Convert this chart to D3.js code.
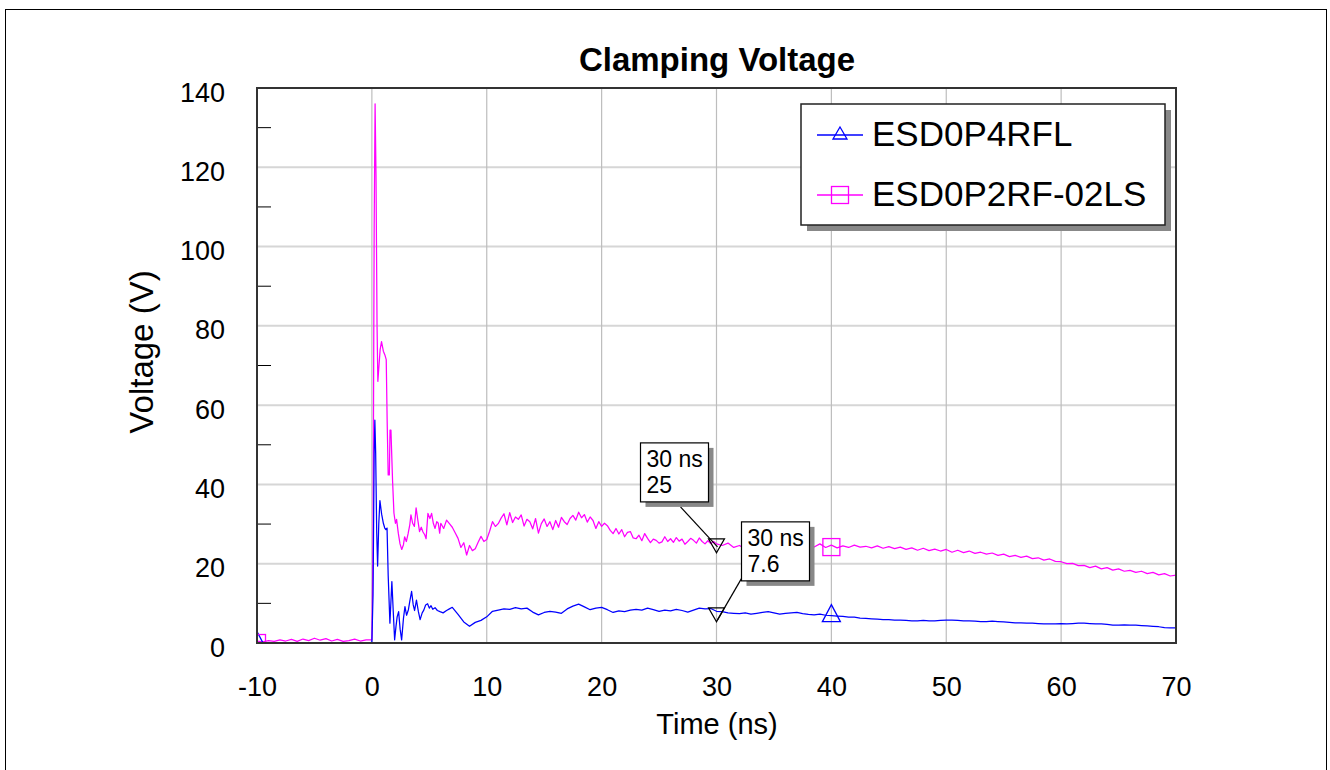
<!DOCTYPE html>
<html><head><meta charset="utf-8">
<script src="https://cdn.jsdelivr.net/npm/d3@7"></script>
<style>body{margin:0;background:#fff}svg{display:block}text{font-family:"Liberation Sans",Arial,sans-serif;fill:#000}</style>
</head><body><svg id="c" width="1330" height="770"></svg>
<script>
// ---------------- DATA ----------------
const chartTitle = "Clamping Voltage";
const xLabel = "Time (ns)";
const yLabel = "Voltage (V)";
const seriesNames = ["ESD0P4RFL", "ESD0P2RF-02LS"];
const xTicks = [-10, 0, 10, 20, 30, 40, 50, 60, 70];
const yTicks = [0, 20, 40, 60, 80, 100, 120, 140];
const yMinorTicks = [10, 30, 50, 70, 90, 110, 130];
const markerTimes = [-10, 40];

// ESD0P4RFL (blue)
const bluePre = [[-10, 0.1], [-5, 0.1], [-0.1, 0.1]];
const blueSpike = [[0,0.2],[0.1,12],[0.2,48],[0.26,56.2],[0.33,48],[0.42,28],[0.5,19.4],[0.6,30],[0.7,35.9],[0.85,32.5],[1.0,30.2],[1.12,29.0],[1.22,28.6],[1.32,29.0],[1.42,17],[1.57,5.0],[1.74,15.5],[1.86,8],[1.98,0.8],[2.1,4.2],[2.2,6.6],[2.33,7.9],[2.46,3.5],[2.59,0.8],[2.75,6.2],[2.88,9.2],[3.02,7.0],[3.18,8.4],[3.3,10.5],[3.46,13.0],[3.6,9.6],[3.72,8.2],[3.88,10.8],[4.05,7.9],[4.2,5.9],[4.38,7.6],[4.52,8.3],[4.68,9.6],[4.85,9.9],[5.0,8.8],[5.15,9.4],[5.3,8.5],[5.5,8.9],[5.7,8.2],[5.93,7.9],[6.2,7.6],[6.5,8.2],[6.75,8.6],[7.0,9.0]];
const blueTailStart = 7.5, blueTailStep = 0.5;
const blueTail = [
  7.2,5.3,4.2,5.2,5.7,6.6,8.0,8.3,8.6,8.5,
  8.9,8.6,8.8,7.8,7.1,7.7,8.0,7.8,7.5,8.6,
  9.3,9.8,9.1,8.4,8.8,9.0,8.4,7.7,8.1,7.9,
  8.3,8.5,8.3,8.8,8.4,8.0,8.3,8.1,8.5,8.2,
  7.8,8.3,8.8,8.6,8.7,8.0,7.9,7.6,7.5,7.4,
  7.6,7.3,7.5,7.7,7.9,7.6,7.3,7.5,7.6,7.7,
  7.4,7.2,7.1,7.3,7.0,6.9,6.8,6.7,6.5,6.5,
  6.3,6.2,6.1,6.0,5.9,5.9,5.8,5.8,5.7,5.6,
  5.6,5.7,5.6,5.6,5.7,5.8,5.8,5.7,5.6,5.6,
  5.5,5.4,5.4,5.5,5.4,5.3,5.2,5.1,5.1,5.0,
  5.0,4.9,4.8,4.8,4.8,4.9,4.8,4.9,5.0,5.0,
  4.9,4.8,4.8,4.7,4.5,4.5,4.6,4.5,4.5,4.4,
  4.3,4.2,4.1,3.9,3.8,3.8];

// ESD0P2RF-02LS (magenta)
const magPreStart = -10, magPreStep = 0.5;
const magPre = [0.5,0.3,0.6,0.4,0.8,0.5,0.9,0.4,1.0,0.6,1.2,0.7,1.1,0.5,0.9,0.4,0.6,1.0,0.5,0.8];
const magSpike = [[0,0.8],[0.1,25],[0.2,105],[0.28,136],[0.36,118],[0.45,80],[0.52,66],[0.62,70],[0.72,74],[0.84,76],[1.0,73.6],[1.15,72.5],[1.25,71.5],[1.33,56],[1.42,42.4],[1.52,42.4],[1.58,53.7],[1.66,53.7],[1.8,41],[1.92,32.8],[2.05,30.2],[2.15,31.2],[2.3,27.7],[2.45,25.0],[2.6,23.6],[2.75,24.8],[2.85,26.8],[3.0,25.6],[3.15,27.5],[3.3,29.8],[3.4,32.3],[3.55,30.2],[3.7,29.4],[3.85,34.1],[4.0,31.0],[4.15,28.1],[4.3,29.2],[4.45,28.0],[4.6,27.3],[4.72,26.3],[4.88,32.7],[5.05,31.4],[5.2,32.7],[5.35,30.2],[5.5,28.9],[5.65,30.6],[5.78,30.2],[5.9,27.7]];
const magMidStart = 6, magMidStep = 0.25;
const magMid = [
  30.2,28.9,31.0,30.1,29.2,27.8,26.4,24.1,25.3,22.2,
  24.6,23.3,23.8,25.4,26.9,25.6,26.1,28.2,30.6,29.4,
  30.1,31.5,32.6,29.8,32.9,30.4,31.8,31.2,32.3,29.5,
  31.2,30.6,28.8,31.4,27.7,30.1,31.3,29.4,30.6,28.6,
  30.9,29.2,31.7,30.6,29.9,31.4,32.2,31.0,33.0,31.6,
  32.4,30.5,31.8,30.9,28.9,30.6,29.4,30.2,29.6,28.4,
  27.6,28.9,27.5,28.6,26.8,27.9,28.1,26.5,26.3,27.2,
  25.8,27.6,26.4,25.3,26.2,25.9,25.2,25.5,26.8,25.6,
  26.3,25.4,26.6,25.7,26.2,24.9,25.6,26.4,25.9,25.2,
  26.5,25.6,25.0,25.8,25.1,25.6,25.0];
const magTailStart = 30.5, magTailStep = 0.5;
const magTail = [
  24.6,25.2,24.1,24.6,23.7,24.3,23.8,24.7,24.0,24.6,
  23.9,24.5,24.0,24.8,24.1,24.6,24.2,25.0,24.1,24.7,
  24.0,24.5,24.1,24.7,24.2,24.4,24.0,24.5,23.9,24.3,
  23.8,24.2,23.6,24.0,23.4,23.9,23.3,23.7,23.2,23.6,
  22.9,23.4,22.8,23.2,22.6,22.9,22.4,22.7,22.1,22.4,
  21.8,22.1,21.6,21.9,21.3,21.5,20.9,21.2,20.6,20.5,
  20.0,20.1,19.5,19.6,19.0,19.4,18.7,19.0,18.4,18.7,
  18.1,18.3,17.8,18.1,17.5,17.8,17.2,17.5,16.9,17.1];

// cursor annotations
const annotTimes = [30, 30];
const annotValues = [25, 7.6];
const annotLabels = [["30 ns", "25"], ["30 ns", "7.6"]];

// ---------------- BUILD ----------------
const toPairs = (start, step, vals) => vals.map((v, i) => [start + i * step, v]);
const blueData = [...bluePre, ...blueSpike, ...toPairs(blueTailStart, blueTailStep, blueTail)];
const magData = [...toPairs(magPreStart, magPreStep, magPre), ...magSpike,
  ...toPairs(magMidStart, magMidStep, magMid), ...toPairs(magTailStart, magTailStep, magTail)];
const series = [
  {name: seriesNames[0], data: blueData, color: "#0000ff", marker: "tri"},
  {name: seriesNames[1], data: magData, color: "#ff00ff", marker: "sq"}
];

const svg = d3.select("#c");
const L = 257, R = 1176, T = 88, B = 643;
const x = d3.scaleLinear().domain([-10, 70]).range([L, R]);
const y = d3.scaleLinear().domain([0, 140]).range([B, T]);

svg.append("rect").attr("width", 1330).attr("height", 770).attr("fill", "#fff");
// outer frame
svg.append("rect").attr("x", 5.5).attr("y", 9.5).attr("width", 1321).attr("height", 800)
  .attr("fill", "none").attr("stroke", "#000").attr("stroke-width", 1);

// title
svg.append("text").attr("x", 717).attr("y", 71).attr("text-anchor", "middle")
  .attr("font-size", 33).attr("font-weight", "bold").text(chartTitle);

// grid
const grid = svg.append("g");
grid.selectAll(".hg").data(yTicks.filter(v => v > 0 && v < 140)).join("line")
  .attr("x1", L).attr("x2", R).attr("y1", d => y(d)).attr("y2", d => y(d))
  .attr("stroke", "#d6d6d6").attr("stroke-width", 2);
grid.selectAll(".vg").data(xTicks.filter(v => v > -10 && v < 70)).join("line")
  .attr("x1", d => x(d)).attr("x2", d => x(d)).attr("y1", T).attr("y2", B)
  .attr("stroke", "#bdbdbd").attr("stroke-width", 1.2);
// minor ticks on y axis
grid.selectAll(".mt").data(yMinorTicks).join("line")
  .attr("x1", L).attr("x2", L + 14).attr("y1", d => y(d)).attr("y2", d => y(d))
  .attr("stroke", "#000").attr("stroke-width", 1);

// clip
svg.append("clipPath").attr("id", "clip").append("rect")
  .attr("x", L).attr("y", T).attr("width", R - L).attr("height", B - T);
const plot = svg.append("g").attr("clip-path", "url(#clip)");

const line = d3.line().x(d => x(d[0])).y(d => y(d[1]));
const triPath = s => `M0,${-11*s}L${9*s},${6*s}L${-9*s},${6*s}Z`;
[series[1], series[0]].forEach(s => {
  plot.append("path").datum(s.data).attr("d", line).attr("fill", "none")
    .attr("stroke", s.color).attr("stroke-width", 1.25).attr("stroke-linejoin", "round");
});
series.forEach(s => {
  markerTimes.forEach(t => {
    const p = s.data.reduce((a, b) => Math.abs(b[0] - t) < Math.abs(a[0] - t) ? b : a);
    const g = plot.append("g").attr("transform", `translate(${x(p[0])},${y(p[1])})`);
    if (s.marker === "tri") g.append("path").attr("d", triPath(1)).attr("fill", "none").attr("stroke", s.color).attr("stroke-width", 1.3);
    else g.append("rect").attr("x", -8.5).attr("y", -6.5).attr("width", 17).attr("height", 17).attr("fill", "none").attr("stroke", s.color).attr("stroke-width", 1.3);
  });
});

// plot border
svg.append("rect").attr("x", L).attr("y", T).attr("width", R - L).attr("height", B - T)
  .attr("fill", "none").attr("stroke", "#333").attr("stroke-width", 2);

// axes labels via d3 axis
const fmt = d => String(d);
const xAxis = svg.append("g").attr("transform", `translate(0,${B})`)
  .call(d3.axisBottom(x).tickValues(xTicks).tickSize(0).tickPadding(53).tickFormat(fmt));
xAxis.select(".domain").remove();
xAxis.selectAll("text").attr("font-size", 27).attr("font-family", "Liberation Sans, Arial, sans-serif").attr("fill", "#000").attr("dy", 0);
const yAxis = svg.append("g").attr("transform", `translate(${L},0)`)
  .call(d3.axisLeft(y).tickValues(yTicks).tickSize(0).tickPadding(32).tickFormat(fmt));
yAxis.select(".domain").remove();
yAxis.selectAll("text").attr("font-size", 27).attr("font-family", "Liberation Sans, Arial, sans-serif").attr("fill", "#000").attr("dy", 13);

svg.append("text").attr("x", 717).attr("y", 734).attr("text-anchor", "middle").attr("font-size", 29).text(xLabel);
svg.append("text").attr("transform", "translate(153,352) rotate(-90)").attr("text-anchor", "middle").attr("font-size", 33).text(yLabel);

// annotations
const boxOff = [[-76, -101], [25, -91]];
const lineStart = [[-36, -37], [55, -86]];
const lineEndDy = [3, 7];
annotTimes.forEach((t, i) => {
  const ax = x(t), ay = y(annotValues[i]);
  const bx = ax + boxOff[i][0], by = ay + boxOff[i][1];
  svg.append("line").attr("x1", ax + lineStart[i][0]).attr("y1", ay + lineStart[i][1])
    .attr("x2", ax + 1).attr("y2", ay + lineEndDy[i]).attr("stroke", "#000").attr("stroke-width", 1.2);
  svg.append("path").attr("d", `M${ax-8},${ay-5}L${ax+8},${ay-5}L${ax},${ay+9}Z`)
    .attr("fill", "none").attr("stroke", "#000").attr("stroke-width", 1.2);
  svg.append("rect").attr("x", bx + 5).attr("y", by + 5).attr("width", 68).attr("height", 59).attr("fill", "#888");
  svg.append("rect").attr("x", bx).attr("y", by).attr("width", 68).attr("height", 59).attr("fill", "#fff").attr("stroke", "#000").attr("stroke-width", 1.2);
  annotLabels[i].forEach((s, j) => {
    svg.append("text").attr("x", bx + 6).attr("y", by + 24 + j * 26).attr("font-size", 23).text(s);
  });
});

// legend
const lg = svg.append("g");
lg.append("rect").attr("x", 807).attr("y", 110).attr("width", 364).attr("height", 121).attr("fill", "#888");
lg.append("rect").attr("x", 801).attr("y", 104).attr("width", 364).attr("height", 121).attr("fill", "#fff").attr("stroke", "#222").attr("stroke-width", 1.5);
series.forEach((s, i) => {
  const ly = 135 + i * 60;
  lg.append("line").attr("x1", 817).attr("x2", 863).attr("y1", ly).attr("y2", ly).attr("stroke", s.color).attr("stroke-width", 1.3);
  if (s.marker === "tri") lg.append("path").attr("transform", `translate(840,${ly})`).attr("d", "M0,-8L7,4L-7,4Z").attr("fill", "none").attr("stroke", s.color).attr("stroke-width", 1.3);
  else lg.append("rect").attr("x", 831.5).attr("y", ly - 8.5).attr("width", 17).attr("height", 17).attr("fill", "none").attr("stroke", s.color).attr("stroke-width", 1.3);
  lg.append("text").attr("x", 872).attr("y", ly + 10.5).attr("font-size", 35).text(s.name);
});
</script></body></html>
